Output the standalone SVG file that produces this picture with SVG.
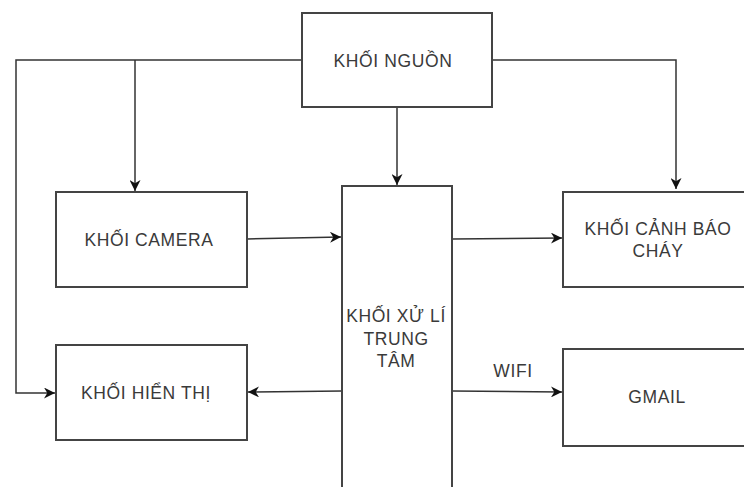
<svg xmlns="http://www.w3.org/2000/svg" width="744" height="487" viewBox="0 0 744 487">
<style>
.box{fill:#fff;stroke:#444;stroke-width:2}
.t{font-family:"Liberation Sans",Arial,sans-serif;font-size:17.5px;letter-spacing:0.6px;fill:#3a3a3a;text-anchor:middle}
.c{fill:none;stroke:#333;stroke-width:1.5}
</style>
<defs>
<marker id="a" viewBox="0 0 10 10" refX="10" refY="5" markerWidth="11" markerHeight="11" markerUnits="userSpaceOnUse" orient="auto">
<path d="M0,0 L10,5 L0,10 L3,5 Z" fill="#111"/>
</marker>
</defs>
<rect width="744" height="487" fill="#fff"/>
<g id="connectors">
<path class="c" d="M302,60 H16 V393 H55" marker-end="url(#a)"/>
<path class="c" d="M135,60 V191" marker-end="url(#a)"/>
<path class="c" d="M492,60 H676 V189" marker-end="url(#a)"/>
<path class="c" d="M397,107 V185" marker-end="url(#a)"/>
<path class="c" d="M247,239 L341,237" marker-end="url(#a)"/>
<path class="c" d="M452,239 L562,238" marker-end="url(#a)"/>
<path class="c" d="M342,391 L248,392" marker-end="url(#a)"/>
<path class="c" d="M452,391 L562,392" marker-end="url(#a)"/>
<text class="t" x="513" y="377">WIFI</text>
</g>
<g id="nguon">
<rect class="box" x="302" y="13" width="190" height="94"/>
<text class="t" x="393" y="67">KHỐI NGUỒN</text>
</g>
<g id="camera">
<rect class="box" x="56" y="192" width="191" height="95"/>
<text class="t" x="149" y="246">KHỐI CAMERA</text>
</g>
<g id="hienthi">
<rect class="box" x="56" y="345" width="191" height="95"/>
<text class="t" x="146" y="399">KHỐI HIỂN THỊ</text>
</g>
<g id="xuli">
<rect class="box" x="342" y="186" width="110" height="310"/>
<text class="t" x="396" y="322">KHỐI XỬ LÍ</text>
<text class="t" x="396" y="345">TRUNG</text>
<text class="t" x="396" y="367">TÂM</text>
</g>
<g id="canhbao">
<rect class="box" x="563" y="192" width="200" height="95"/>
<text class="t" x="658" y="235">KHỐI CẢNH BÁO</text>
<text class="t" x="658" y="257">CHÁY</text>
</g>
<g id="gmail">
<rect class="box" x="563" y="349" width="200" height="97"/>
<text class="t" x="657" y="403">GMAIL</text>
</g>
</svg>
